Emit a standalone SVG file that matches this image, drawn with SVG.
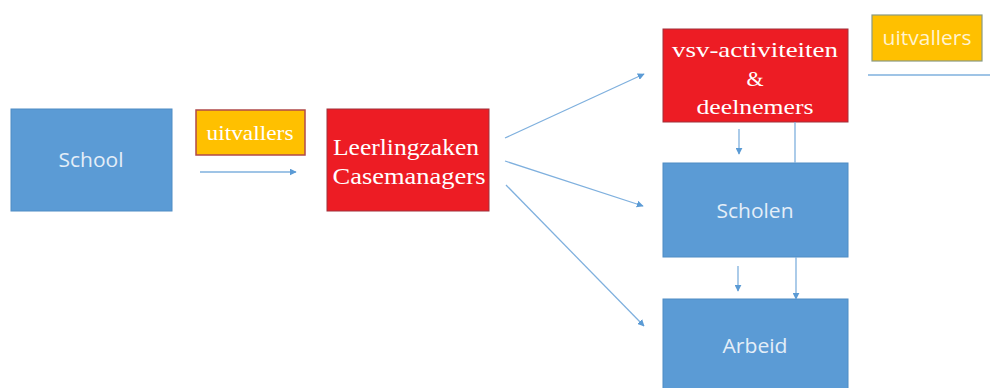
<svg xmlns="http://www.w3.org/2000/svg" width="990" height="388" viewBox="0 0 990 388">
<style>
.blue{fill:#5b9bd5;stroke:#4f8cc4;stroke-width:1}
.red{fill:#ed1c24;stroke:#a0303a;stroke-width:1}
.yel{fill:#ffc000}
.sans{font-family:"Open Sans","Liberation Sans",sans-serif;font-size:20px;fill:#e4eef8;text-anchor:middle}
.serif{font-family:"Liberation Serif","DejaVu Serif",serif;fill:#ffffff;text-anchor:middle}
.con{stroke:#7fb0de;stroke-width:1.3;fill:none}
</style>
<defs>
<marker id="ah" viewBox="0 0 10 10" refX="9" refY="5" markerWidth="7" markerHeight="7" orient="auto" markerUnits="userSpaceOnUse">
<path d="M0,0 L10,5 L0,10 z" fill="#5b9bd5"/>
</marker>
</defs>
<g id="school"><rect class="blue" x="11" y="109" width="161" height="102"/><text class="sans" x="91" y="167" textLength="65" lengthAdjust="spacingAndGlyphs">School</text></g>
<g id="uitvallers1"><rect class="yel" x="196" y="110" width="109" height="45" stroke="#b04a4a" stroke-width="1.5"/><text class="serif" x="250" y="140" font-size="21" textLength="87" lengthAdjust="spacingAndGlyphs">uitvallers</text></g>
<g id="leerlingzaken"><rect class="red" x="327" y="109" width="162" height="102"/><text class="serif" x="406" y="155" font-size="23" textLength="146" lengthAdjust="spacingAndGlyphs">Leerlingzaken</text><text class="serif" x="409" y="184" font-size="23" textLength="153" lengthAdjust="spacingAndGlyphs">Casemanagers</text></g>
<g id="vsv"><rect class="red" x="663" y="29" width="185" height="93"/><text class="serif" x="755" y="57" font-size="22" textLength="166" lengthAdjust="spacingAndGlyphs">vsv-activiteiten</text><text class="serif" x="755" y="86" font-size="22">&amp;</text><text class="serif" x="755" y="114" font-size="22" textLength="117" lengthAdjust="spacingAndGlyphs">deelnemers</text></g>
<g id="uitvallers2"><rect class="yel" x="872" y="15" width="110" height="46" stroke="#8a9a80" stroke-width="1.2"/><text class="sans" x="927" y="45" style="fill:#fff3d0" textLength="89" lengthAdjust="spacingAndGlyphs">uitvallers</text></g>
<g id="scholen"><rect class="blue" x="663" y="163" width="185" height="94"/><text class="sans" x="755" y="218" textLength="77" lengthAdjust="spacingAndGlyphs">Scholen</text></g>
<g id="arbeid"><rect class="blue" x="663" y="299" width="185" height="95"/><text class="sans" x="755" y="353" textLength="65" lengthAdjust="spacingAndGlyphs">Arbeid</text></g>
<g id="connectors">
<line class="con" x1="200" y1="172" x2="296" y2="172" marker-end="url(#ah)"/>
<line class="con" x1="505" y1="138" x2="644" y2="74" marker-end="url(#ah)"/>
<line class="con" x1="505" y1="161" x2="643" y2="206" marker-end="url(#ah)"/>
<line class="con" x1="506" y1="185" x2="644" y2="326" marker-end="url(#ah)"/>
<line class="con" x1="739" y1="129" x2="739" y2="154" marker-end="url(#ah)"/>
<line class="con" x1="738" y1="266" x2="738" y2="291" marker-end="url(#ah)"/>
<line class="con" x1="795" y1="122" x2="795" y2="163"/>
<line class="con" x1="796" y1="257" x2="796" y2="299" marker-end="url(#ah)"/>
<line class="con" x1="868" y1="75" x2="990" y2="75"/>
</g>
</svg>
